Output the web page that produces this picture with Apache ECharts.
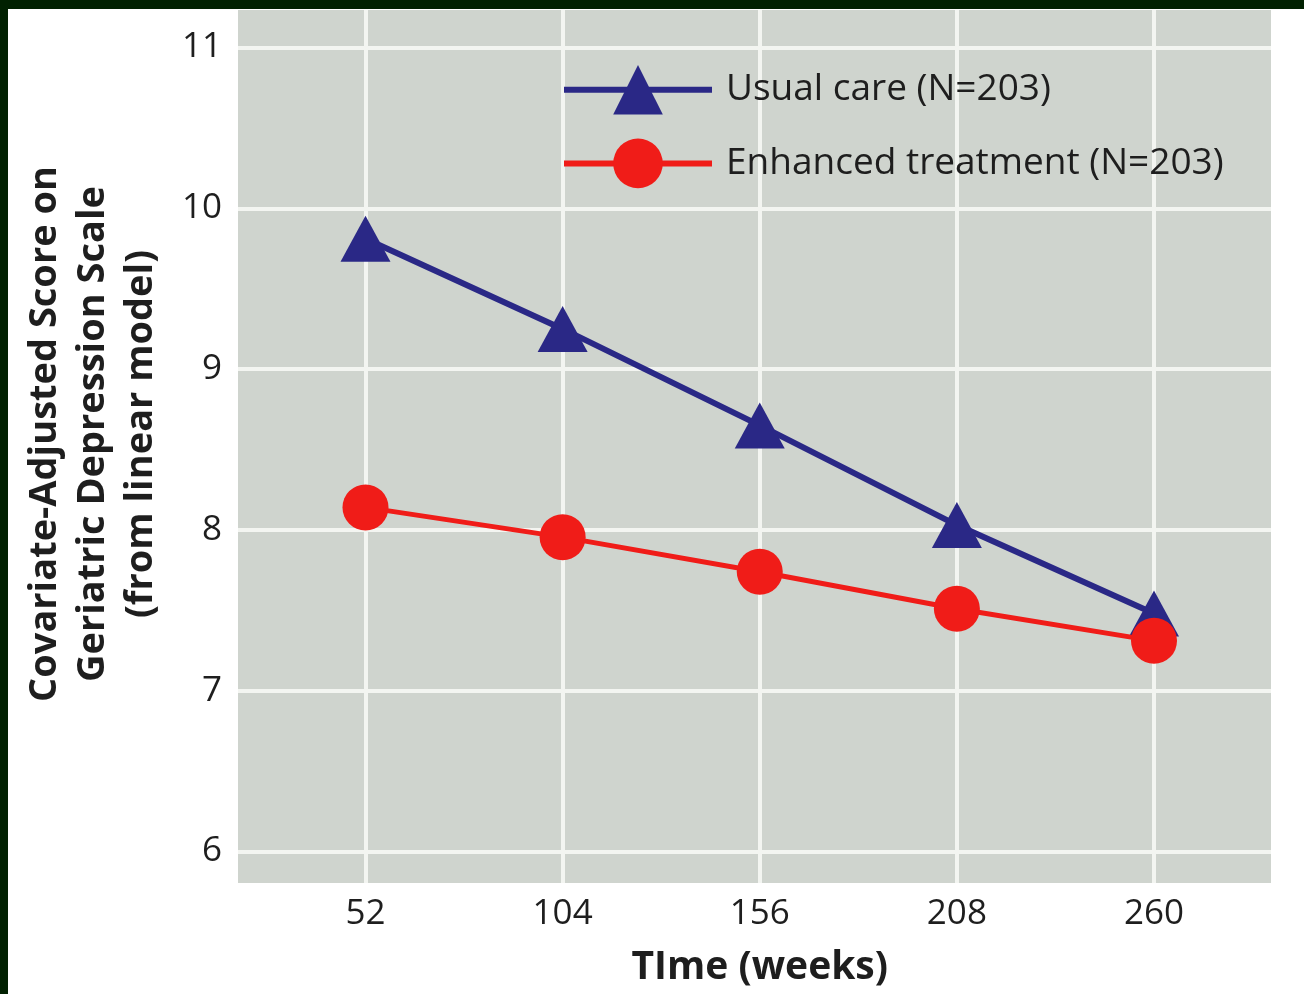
<!DOCTYPE html>
<html>
<head>
<meta charset="utf-8">
<script src="https://cdn.jsdelivr.net/npm/echarts@6/dist/echarts.min.js"></script>
<style>
html,body{margin:0;padding:0;background:#ffffff;}
#chart{width:1304px;height:994px;}
</style>
</head>
<body>
<div id="chart"></div>
<script>
// ---- data ----
var weeks = [52, 104, 156, 208, 260];
var usualCare = [9.81, 9.25, 8.65, 8.03, 7.48];
var enhanced = [8.14, 7.955, 7.74, 7.51, 7.31];
var seriesNames = ['Usual care (N=203)', 'Enhanced treatment (N=203)'];
var yTicks = [6, 7, 8, 9, 10, 11];
var xTitle = 'TIme (weeks)';
var yTitleLines = ['Covariate-Adjusted Score on', 'Geriatric Depression Scale', '(from linear model)'];

function pairs(xs, ys) { return xs.map(function (x, i) { return [x, ys[i]]; }); }

var FONT = 'Open Sans';
var TEXT = '#1e1e1e';
var GRIDC = '#f3f5f1';
var BG = '#cfd4ce';

// pixel geometry
var plotL = 238, plotR = 1271, plotT = 10, plotB = 883;
var y11 = 47.5, y6 = 851.5;
var pxPerUnit = (y6 - y11) / (yTicks[yTicks.length - 1] - yTicks[0]);
var dataYMax = 11 + (y11 - plotT) / pxPerUnit;
var dataYMin = 6 - (plotB - y6) / pxPerUnit;
var x52 = 365.5, x260 = 1154;

var chart = echarts.init(document.getElementById('chart'), null, {renderer: 'canvas'});
chart.setOption({
  backgroundColor: '#ffffff',
  animation: false,
  textStyle: {fontFamily: FONT},
  graphic: [
    {type: 'rect', shape: {x: 0, y: 0, width: 1304, height: 9}, style: {fill: '#012101'}, z: 100},
    {type: 'rect', shape: {x: 0, y: 0, width: 8, height: 994}, style: {fill: '#012101'}, z: 100},
    {type: 'text', x: 93, y: 434, rotation: Math.PI / 2,
     style: {text: yTitleLines.join('\n'), fill: TEXT, font: 'bold 38px "' + FONT + '"',
             textAlign: 'center', textVerticalAlign: 'middle', lineHeight: 48}}
  ],
  grid: [
    {left: plotL, top: plotT, width: plotR - plotL, height: plotB - plotT, show: true, backgroundColor: BG, borderWidth: 0},
    {left: plotL, top: y11, width: plotR - plotL, height: y6 - y11},
    {left: x52, top: plotT, width: x260 - x52, height: plotB - plotT}
  ],
  xAxis: [
    {gridIndex: 0, type: 'value', show: false, min: 0, max: 1},
    {gridIndex: 1, type: 'value', show: false, min: 0, max: 1},
    {gridIndex: 2, type: 'value', min: weeks[0], max: weeks[weeks.length - 1], interval: 52,
     axisLine: {show: false}, axisTick: {show: false},
     axisLabel: {color: TEXT, fontSize: 35, fontFamily: FONT, margin: 14},
     splitLine: {show: true, lineStyle: {color: GRIDC, width: 4}},
     name: xTitle, nameLocation: 'middle', nameGap: 65,
     nameTextStyle: {color: TEXT, fontSize: 39, fontWeight: 'bold', fontFamily: FONT}}
  ],
  yAxis: [
    {gridIndex: 0, type: 'value', show: false, min: 0, max: 1},
    {gridIndex: 1, type: 'value', min: yTicks[0], max: yTicks[yTicks.length - 1], interval: 1,
     axisLine: {show: false}, axisTick: {show: false},
     axisLabel: {color: TEXT, fontSize: 35, fontFamily: FONT, margin: 16},
     splitLine: {show: true, lineStyle: {color: GRIDC, width: 4}}},
    {gridIndex: 2, type: 'value', show: false, min: dataYMin, max: dataYMax, splitLine: {show: false}}
  ],
  legend: {
    orient: 'vertical', left: 556, top: 60, itemWidth: 148, itemHeight: 62, itemGap: 24,
    lineStyle: {width: 6},
    textStyle: {color: TEXT, fontSize: 37, fontFamily: FONT, padding: [0, 0, 0, 9]},
    data: seriesNames
  },
  series: [
    {name: seriesNames[0], type: 'line', xAxisIndex: 2, yAxisIndex: 2,
     data: pairs(weeks, usualCare), symbol: 'triangle', symbolSize: [50, 46],
     lineStyle: {color: '#2a2886', width: 6}, itemStyle: {color: '#2a2886'}, z: 3},
    {name: seriesNames[1], type: 'line', xAxisIndex: 2, yAxisIndex: 2,
     data: pairs(weeks, enhanced), symbol: 'circle', symbolSize: 46,
     lineStyle: {color: '#f01c18', width: 5}, itemStyle: {color: '#f01c18'}, z: 4}
  ]
});
</script>
</body>
</html>
